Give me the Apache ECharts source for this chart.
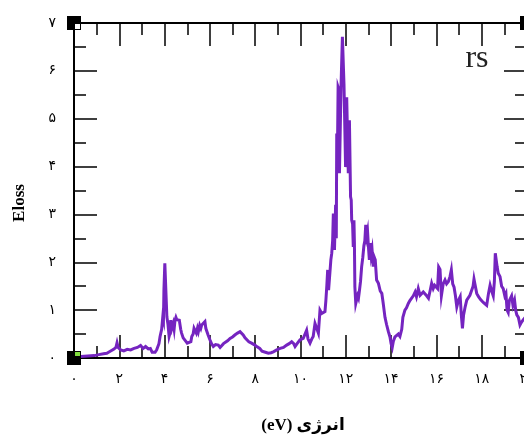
<!DOCTYPE html>
<html><head><meta charset="utf-8">
<script src="https://cdn.jsdelivr.net/npm/echarts@6/dist/echarts.min.js"></script>
<style>html,body{margin:0;padding:0;background:#fff}#c{width:524px;height:436px}</style>
</head><body><div id="c"></div>
<script>
const energy = [0.00,0.30,0.60,0.90,1.10,1.30,1.45,1.60,1.75,1.85,1.90,1.95,2.06,2.20,2.35,2.50,2.65,2.80,2.94,3.05,3.16,3.28,3.37,3.45,3.50,3.58,3.65,3.75,3.80,3.87,3.92,3.95,3.97,4.00,4.01,4.08,4.10,4.15,4.20,4.24,4.27,4.32,4.38,4.42,4.46,4.50,4.54,4.60,4.65,4.71,4.75,4.82,4.90,5.00,5.05,5.16,5.20,5.26,5.30,5.34,5.40,5.45,5.49,5.55,5.60,5.64,5.70,5.78,5.82,5.86,5.92,6.00,6.07,6.15,6.25,6.37,6.45,6.52,6.60,6.67,6.78,6.89,7.00,7.10,7.22,7.33,7.40,7.47,7.55,7.62,7.72,7.84,7.95,8.07,8.20,8.30,8.36,8.45,8.58,8.70,8.80,8.95,9.10,9.25,9.39,9.50,9.61,9.70,9.76,9.85,9.98,10.05,10.12,10.20,10.27,10.33,10.42,10.50,10.56,10.64,10.71,10.79,10.86,10.94,11.00,11.08,11.12,11.16,11.20,11.24,11.30,11.34,11.38,11.42,11.45,11.50,11.55,11.58,11.60,11.63,11.66,11.70,11.72,11.76,11.79,11.83,11.85,11.90,11.92,11.97,11.99,12.02,12.04,12.09,12.11,12.14,12.16,12.19,12.21,12.24,12.26,12.30,12.33,12.36,12.38,12.40,12.44,12.48,12.52,12.56,12.60,12.65,12.70,12.75,12.80,12.84,12.88,12.92,12.96,13.00,13.04,13.08,13.12,13.16,13.21,13.26,13.30,13.36,13.44,13.52,13.59,13.65,13.73,13.80,13.88,13.95,14.00,14.05,14.10,14.17,14.24,14.32,14.39,14.47,14.52,14.61,14.68,14.76,14.83,14.90,14.98,15.06,15.12,15.20,15.28,15.35,15.42,15.50,15.57,15.65,15.72,15.79,15.86,15.92,15.98,16.05,16.10,16.16,16.22,16.30,16.38,16.45,16.53,16.60,16.66,16.72,16.78,16.84,16.90,16.97,17.05,17.10,17.15,17.20,17.27,17.34,17.40,17.48,17.56,17.62,17.66,17.72,17.78,17.86,17.95,18.07,18.15,18.22,18.30,18.37,18.44,18.51,18.56,18.60,18.64,18.68,18.73,18.81,18.88,18.95,19.02,19.07,19.12,19.17,19.22,19.27,19.32,19.38,19.45,19.50,19.55,19.62,19.69,19.76,19.84,19.92,20.00];
const eloss = [0.02,0.03,0.04,0.05,0.07,0.09,0.10,0.14,0.18,0.22,0.32,0.22,0.17,0.15,0.18,0.17,0.20,0.22,0.26,0.20,0.24,0.19,0.20,0.12,0.08,0.12,0.17,0.30,0.45,0.60,0.86,0.80,1.42,1.40,1.98,1.98,0.86,0.70,0.45,0.52,0.79,0.62,0.72,0.60,0.79,0.85,0.80,0.84,0.79,0.60,0.52,0.42,0.38,0.31,0.35,0.34,0.45,0.50,0.62,0.65,0.52,0.62,0.55,0.68,0.62,0.69,0.72,0.76,0.62,0.58,0.48,0.38,0.30,0.24,0.28,0.27,0.22,0.24,0.30,0.34,0.36,0.41,0.44,0.48,0.52,0.55,0.52,0.48,0.42,0.38,0.34,0.31,0.28,0.24,0.20,0.14,0.17,0.12,0.10,0.11,0.13,0.17,0.20,0.22,0.27,0.30,0.34,0.30,0.24,0.30,0.38,0.35,0.41,0.50,0.58,0.40,0.31,0.40,0.45,0.72,0.72,0.52,1.00,0.93,0.93,0.97,1.20,1.49,1.84,1.42,1.42,2.05,2.19,2.46,3.02,2.26,3.20,2.50,4.69,4.20,5.66,5.60,3.86,3.90,5.70,5.70,6.71,6.71,5.72,5.72,3.99,4.10,5.45,5.45,3.86,3.90,4.97,4.97,3.37,3.30,2.88,2.80,2.32,2.88,2.40,1.49,1.14,1.18,1.30,1.25,1.40,1.60,1.91,2.10,2.35,2.45,2.78,2.55,2.65,2.32,2.05,2.40,2.15,2.26,1.91,2.10,2.05,1.63,1.56,1.40,1.35,1.15,0.85,0.70,0.55,0.44,0.30,0.22,0.35,0.44,0.42,0.50,0.45,0.60,0.85,1.00,1.05,1.14,1.20,1.22,1.30,1.38,1.28,1.45,1.31,1.28,1.38,1.42,1.30,1.25,1.40,1.56,1.45,1.52,1.50,1.45,1.90,1.85,1.30,1.55,1.63,1.55,1.60,1.70,1.84,1.55,1.48,1.30,1.07,1.20,1.28,0.90,0.62,0.90,1.07,1.21,1.25,1.31,1.35,1.50,1.65,1.50,1.35,1.28,1.22,1.16,1.12,1.10,1.35,1.52,1.40,1.30,1.60,2.19,2.05,1.91,1.77,1.70,1.50,1.45,1.30,1.35,1.00,0.95,1.20,1.21,1.30,1.10,1.21,1.00,0.90,0.85,0.69,0.75,0.80,0.85,0.90];
const xTicks = [0,2,4,6,8,10,12,14,16,18,20];
const yTicks = [0,1,2,3,4,5,6,7];
const xTitle = '(eV) انرژی';
const yTitle = 'Eloss';
const label = 'rs';

const fa = '۰۱۲۳۴۵۶۷۸۹';
const toFa = v => String(v).replace(/\d/g, d => fa[+d]);
const chart = echarts.init(document.getElementById('c'), null, {renderer:'canvas'});
const gl = 74, gt = 23, gw = 453, gh = 335;
const lineStyle = {color:'#000', width:2};
function xAx(pos, show) {
  return {type:'value', position:pos, min:xTicks[0], max:xTicks[xTicks.length-1], interval:2,
    axisLine:{show:true, onZero:false, lineStyle}, splitLine:{show:false},
    axisTick:{show:true, inside:true, length:23, lineStyle:{color:'#000', width:1.5}},
    minorTick:{show:true, splitNumber:2, length:12, lineStyle:{color:'#000', width:1.5}},
    axisLabel:{show:show, margin:14, color:'#000', fontSize:14, fontFamily:'DejaVu Sans', formatter:v=>toFa(v), showMaxLabel:true, hideOverlap:false}};
}
function yAx(pos, show) {
  return {type:'value', position:pos, min:yTicks[0], max:yTicks[yTicks.length-1], interval:1,
    axisLine:{show:true, onZero:false, lineStyle}, splitLine:{show:false},
    axisTick:{show:true, inside:true, length:23, lineStyle:{color:'#000', width:1.5}},
    minorTick:{show:true, splitNumber:2, length:12, lineStyle:{color:'#000', width:1.5}},
    axisLabel:{show:show, margin:18, color:'#000', fontSize:14, fontFamily:'DejaVu Sans', formatter:v=>toFa(v)}};
}
const corners = [[gl,gt],[gl,gt+gh],[gl+gw,gt],[gl+gw,gt+gh]];
const graphic = corners.map(c => ({type:'rect', shape:{x:c[0]-7, y:c[1]-7, width:14, height:14}, style:{fill:'#000'}, z:100}));
graphic.push({type:'rect', shape:{x:gl+1, y:gt+1, width:5, height:5}, style:{fill:'#fff'}, z:101});
graphic.push({type:'rect', shape:{x:gl+1, y:gt+gh-6, width:5, height:4}, style:{fill:'#7fdc3c'}, z:101});
graphic.push({type:'text', x:303, y:426, style:{text:xTitle, font:'bold 17px "Liberation Serif", "DejaVu Sans"', fill:'#000', textAlign:'center', textVerticalAlign:'middle'}, z:100});
graphic.push({type:'text', x:20, y:203, rotation:Math.PI/2, style:{text:yTitle, font:'bold 17px "Liberation Serif"', fill:'#000', textAlign:'center', textVerticalAlign:'middle'}, z:100});
graphic.push({type:'text', x:477, y:59, style:{text:label, font:'32px "Liberation Serif"', fill:'#222', textAlign:'center', textVerticalAlign:'middle'}, z:100});

chart.setOption({
  animation:false,
  backgroundColor:'#fff',
  grid:{left:gl, top:gt, width:gw, height:gh, containLabel:false, outerBoundsMode:'none'},
  xAxis:[xAx('bottom', true), xAx('top', false)],
  yAxis:[yAx('left', true), yAx('right', false)],
  series:[{type:'line', xAxisIndex:0, yAxisIndex:0, data:energy.map((x,i)=>[x, eloss[i]]),
    showSymbol:false, symbol:'none', lineStyle:{color:'#7524C0', width:3, join:'miter'}, z:5}],
  graphic
});
</script></body></html>
